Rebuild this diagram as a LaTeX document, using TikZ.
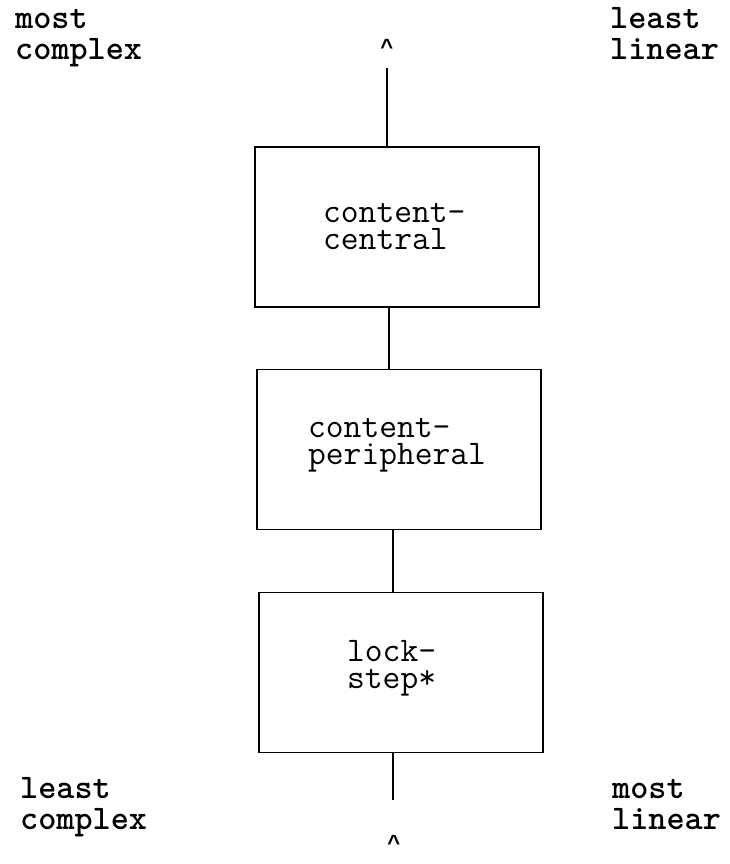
\documentclass[tikz,border=0pt]{standalone}
\usepackage{fontspec}
\newfontfamily\caretfont{Liberation Mono}
\tikzset{
  stage/.style={draw, rectangle, line width=1.6pt, minimum width=284pt, minimum height=160pt, inner sep=0pt},
  boxtext/.style={anchor=base west, inner sep=0pt, align=left, font=\ttfamily\fontsize{34.5}{27}\selectfont},
  corner/.style={anchor=base west, inner sep=0pt, align=left, font=\ttfamily\bfseries\fontsize{34.5}{31}\selectfont},
  caret/.style={anchor=base, inner sep=0pt, text depth=0pt, font=\caretfont\bfseries\fontsize{22}{22}\selectfont},
  link/.style={line width=1.6pt}
}
\begin{document}
\begin{tikzpicture}[x=1pt,y=-1pt]
\useasboundingbox (0,0) rectangle (729,864);

% the three stages, stacked
\node[stage] (b1) at (397,227) {};
\node[stage] (b2) at (399,449.5) {};
\node[stage] (b3) at (401,672.5) {};

% stage names (anchored at the baseline of their last line)
\node[boxtext] (b1t) at (323,249) {content-\\central};
\node[boxtext] (b2t) at (308,464) {content-\\peripheral};
\node[boxtext] (b3t) at (347,688) {lock-\\step*};

% axis ends
\node[caret] (up) at (387,55) {\textasciicircum};
\node[caret] (dn) at (394,850) {\textasciicircum};
\coordinate (topend) at (387,68);
\coordinate (botend) at (393,800);

% connectors
\draw[link] (topend) -- (topend |- b1.north);
\draw[link] ([xshift=-8pt]b1.south) -- ([xshift=-8pt]b1.south |- b2.north);
\draw[link] ([xshift=-6pt]b2.south) -- ([xshift=-6pt]b2.south |- b3.north);
\draw[link] (botend |- b3.south) -- (botend);

% corner labels
\node[corner] (tl) at (15,60) {most\\complex};
\node[corner] (tr) at (610,60) {least\\linear};
\node[corner] (bl) at (20,829) {least\\complex};
\node[corner] (br) at (612,829) {most\\linear};
\end{tikzpicture}
\end{document}
